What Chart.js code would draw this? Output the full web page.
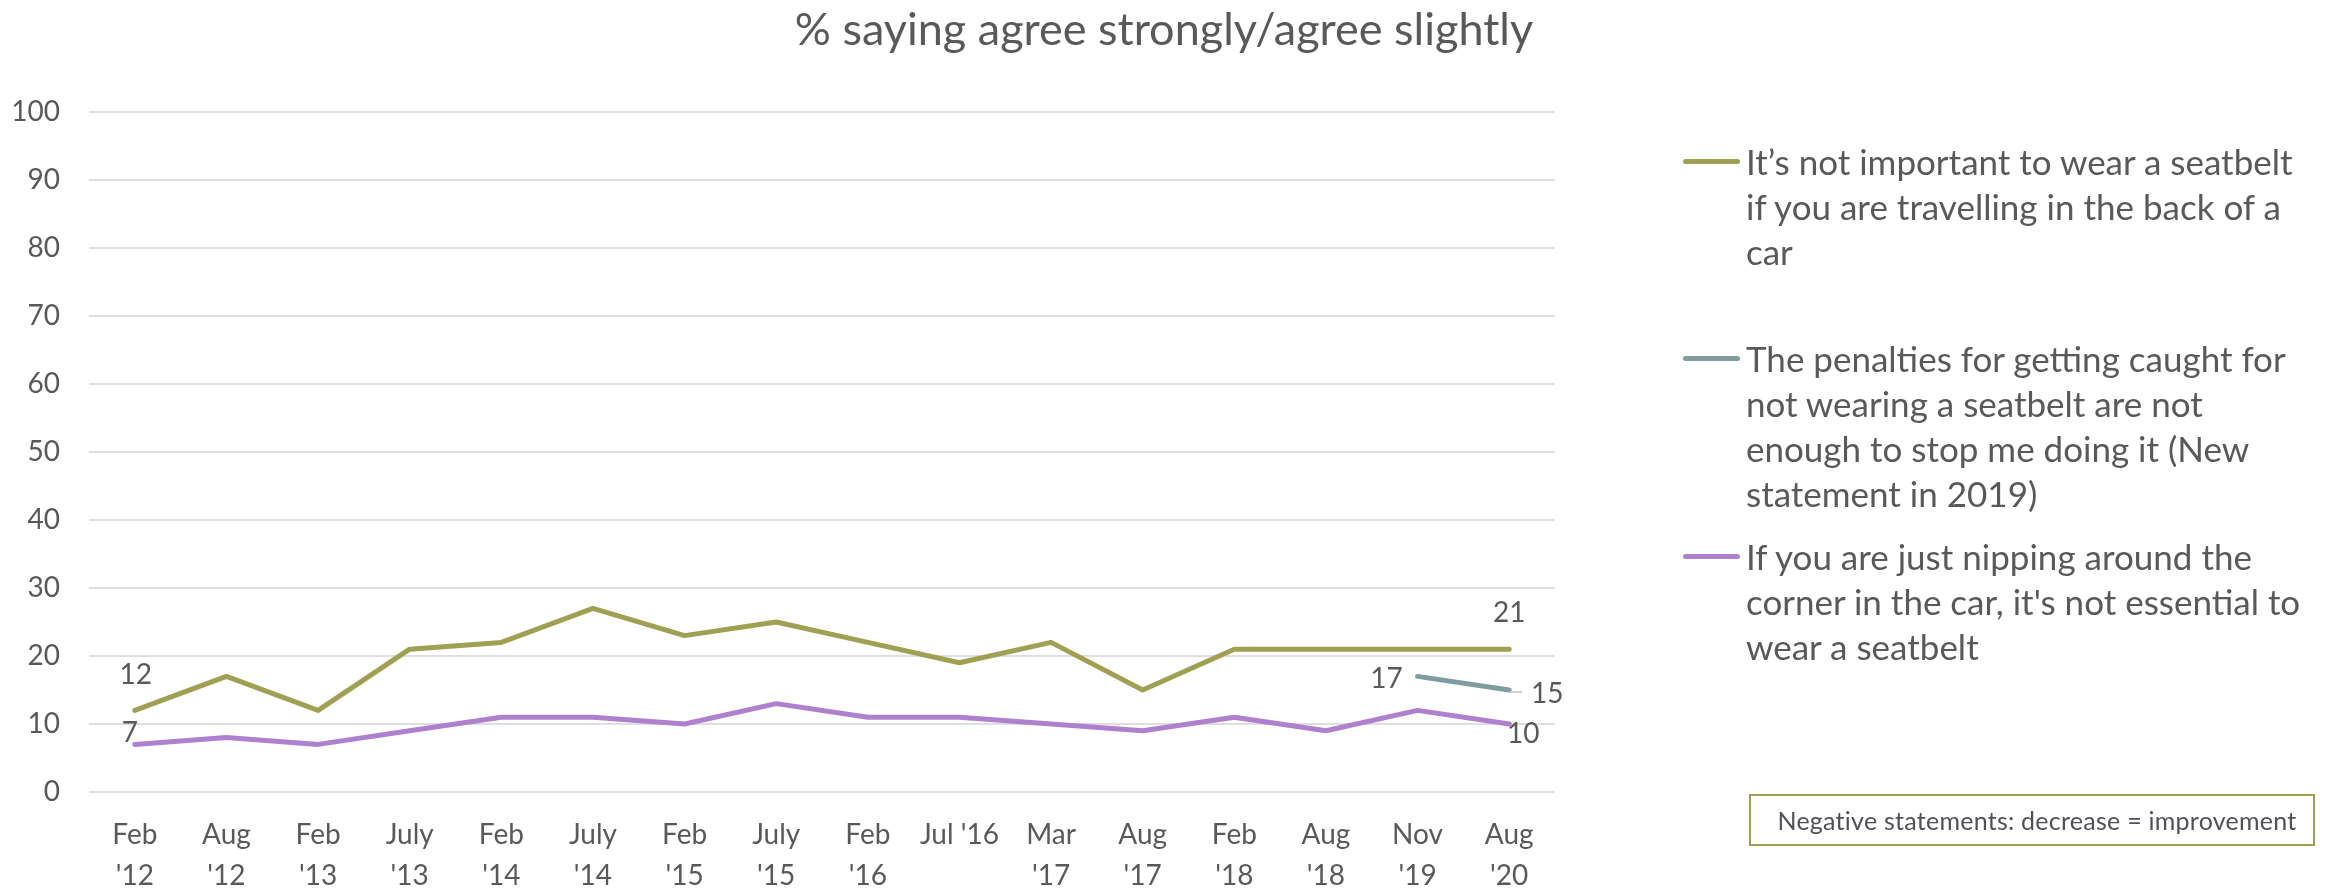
<!DOCTYPE html>
<html lang="en">
<head>
    <meta charset="UTF-8">
    <title>Seatbelt attitudes</title>
    <script src="https://cdn.jsdelivr.net/npm/chart.js"></script>
    <style>
        html, body { margin: 0; padding: 0; background: #fff; }
        #wrap { position: relative; width: 2328px; height: 893px; font-family: Lato, sans-serif; color: #595959; }
        #seatbeltChart { position: absolute; left: 0; top: 0; }
        #title { position: absolute; left: 0; top: 2px; width: 2328px; text-align: center; font-size: 45px; line-height: 52px; }
        .legend-item { position: absolute; left: 1683px; }
        .legend-line { position: absolute; left: 0; top: -2.5px; width: 57px; height: 5px; border-radius: 3px; }
        .legend-text { position: absolute; left: 63px; top: -22.5px; font-size: 35px; line-height: 45px; white-space: nowrap; }
        #note { position: absolute; left: 1749px; top: 794px; width: 566px; height: 52px; border: 2px solid #A0A052; box-sizing: border-box;
                font-size: 25px; line-height: 48px; text-align: center; padding-left: 10px; letter-spacing: 0.25px; color: #4f5157; }
    </style>
</head>
<body>
<div id="wrap">
    <canvas id="seatbeltChart" width="2328" height="893"></canvas>
    <div id="title">% saying agree strongly/agree slightly</div>
    <div id="legend"></div>
    <div id="note">Negative statements: decrease = improvement</div>
</div>

<script>
    // survey waves
    var waves = [
        ['Feb', "'12"], ['Aug', "'12"], ['Feb', "'13"], ['July', "'13"],
        ['Feb', "'14"], ['July', "'14"], ['Feb', "'15"], ['July', "'15"],
        ['Feb', "'16"], "Jul '16", ['Mar', "'17"], ['Aug', "'17"],
        ['Feb', "'18"], ['Aug', "'18"], ['Nov', "'19"], ['Aug', "'20"]
    ];

    // % agree strongly / agree slightly
    var backSeat = [12, 17, 12, 21, 22, 27, 23, 25, 22, 19, 22, 15, 21, 21, 21, 21];
    var penalties = [null, null, null, null, null, null, null, null, null, null, null, null, null, null, 17, 15];
    var cornerTrip = [7, 8, 7, 9, 11, 11, 10, 13, 11, 11, 10, 9, 11, 9, 12, 10];

    var seriesNames = [
        ['It\u2019s not important to wear a seatbelt', 'if you are travelling in the back of a', 'car'],
        ['The penalties for getting caught for', 'not wearing a seatbelt are not', 'enough to stop me doing it (New', 'statement in 2019)'],
        ['If you are just nipping around the', "corner in the car, it's not essential to", 'wear a seatbelt']
    ];
    var seriesColors = ['#A0A052', '#7F9DA0', '#AE80CD'];
    var legendY = [161, 358, 556];

    var yTicks = [0, 10, 20, 30, 40, 50, 60, 70, 80, 90, 100];

    // which points carry a value label, and where it sits
    var valueLabels = [
        { series: 0, index: 0, dx: 1, dy: -35 },
        { series: 2, index: 0, dx: -5, dy: -11 },
        { series: 0, index: 15, dx: 0, dy: -36 },
        { series: 1, index: 14, dx: -31, dy: 3 },
        { series: 1, index: 15, dx: 38, dy: 4, leader: true },
        { series: 2, index: 15, dx: 14, dy: 10 }
    ];

    var textColor = '#595959';

    var pointLabels = {
        id: 'pointLabels',
        afterDatasetsDraw: function(chart) {
            var ctx = chart.ctx;
            ctx.save();
            ctx.font = '28px Lato';
            ctx.fillStyle = textColor;
            ctx.textAlign = 'center';
            ctx.textBaseline = 'middle';
            valueLabels.forEach(function(l) {
                var pt = chart.getDatasetMeta(l.series).data[l.index];
                var v = chart.data.datasets[l.series].data[l.index];
                if (l.leader) {
                    ctx.strokeStyle = '#BFBFBF';
                    ctx.lineWidth = 1.5;
                    ctx.beginPath();
                    ctx.moveTo(pt.x, pt.y + 2);
                    ctx.lineTo(pt.x + 13, pt.y + 2);
                    ctx.stroke();
                }
                ctx.fillText(String(v), pt.x + l.dx, pt.y + l.dy);
            });
            ctx.restore();
        }
    };

    function makeSeries(label, data, color) {
        return {
            label: label,
            data: data,
            borderColor: color,
            backgroundColor: color,
            borderWidth: 5,
            borderCapStyle: 'round',
            borderJoinStyle: 'round',
            pointRadius: 0,
            tension: 0,
            spanGaps: false
        };
    }

    var ctx = document.getElementById('seatbeltChart').getContext('2d');
    var seatbeltChart = new Chart(ctx, {
        type: 'line',
        data: {
            labels: waves,
            datasets: [
                makeSeries(seriesNames[0].join(' '), backSeat, seriesColors[0]),
                makeSeries(seriesNames[1].join(' '), penalties, seriesColors[1]),
                makeSeries(seriesNames[2].join(' '), cornerTrip, seriesColors[2])
            ]
        },
        options: {
            responsive: false,
            animation: false,
            layout: { padding: { left: 0, right: 773, top: 112, bottom: 0 } },
            plugins: {
                legend: { display: false },
                tooltip: { enabled: false },
                title: { display: false }
            },
            scales: {
                x: {
                    offset: true,
                    grid: { display: false, drawTicks: false },
                    border: { display: false },
                    ticks: {
                        color: textColor,
                        font: { family: 'Lato', size: 28, lineHeight: 1.46 },
                        padding: 23,
                        maxRotation: 0,
                        autoSkip: false
                    },
                    afterFit: function(scale) { scale.height = 101; }
                },
                y: {
                    min: 0,
                    max: 100,
                    afterBuildTicks: function(scale) {
                        scale.ticks = yTicks.map(function(v) { return { value: v }; });
                    },
                    grid: { color: '#DEDEE3', lineWidth: 2, drawTicks: false },
                    border: { display: false },
                    ticks: {
                        color: textColor,
                        font: { family: 'Lato', size: 28 },
                        padding: 29
                    },
                    afterFit: function(scale) { scale.width = 89; }
                }
            }
        },
        plugins: [pointLabels]
    });

    // legend with the same colours and names as the datasets
    var legend = document.getElementById('legend');
    seriesNames.forEach(function(lines, i) {
        var item = document.createElement('div');
        item.className = 'legend-item';
        item.style.top = legendY[i] + 'px';
        var line = document.createElement('div');
        line.className = 'legend-line';
        line.style.background = seriesColors[i];
        var text = document.createElement('div');
        text.className = 'legend-text';
        text.innerHTML = lines.join('<br>');
        item.appendChild(line);
        item.appendChild(text);
        legend.appendChild(item);
    });
</script>
</body>
</html>
